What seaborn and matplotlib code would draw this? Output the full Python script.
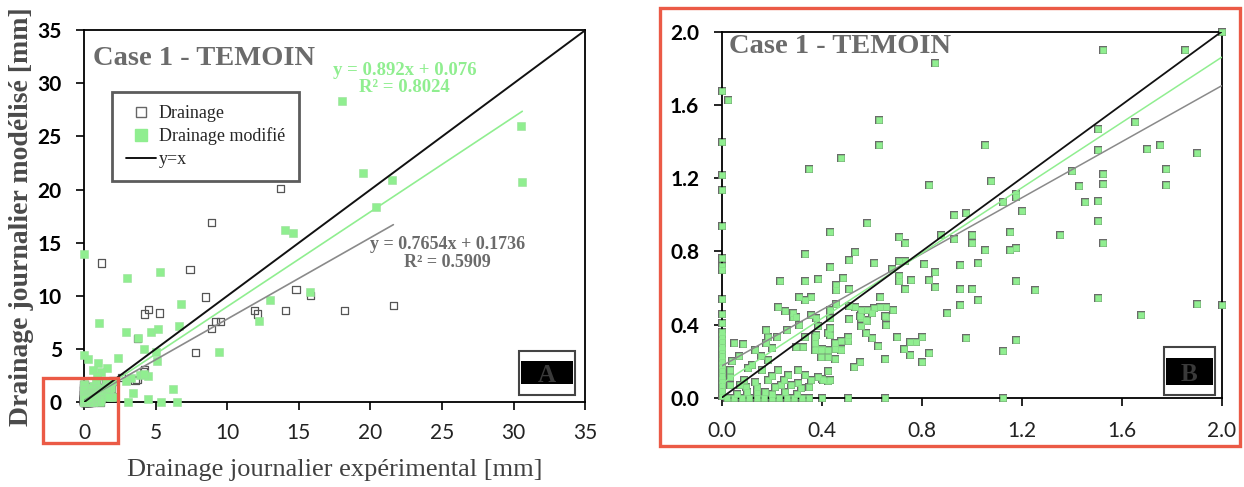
import numpy as np
import pandas as pd
import matplotlib
matplotlib.use("Agg")
import matplotlib.pyplot as plt
import seaborn as sns
from matplotlib.patches import Rectangle
from matplotlib.lines import Line2D

# ---------------- data ----------------
# larger points (left panel) : experimental x, modelled y
exp_drain = [13.7, 8.9, 1.25, 7.4, 8.5, 14.8, 15.8, 4.5, 4.2, 5.3, 11.9, 12.1, 14.05,
             18.2, 21.6, 9.2, 9.5, 8.9, 7.8, 3.75, 4.25, 3.7, 3.56, 4.15, 2.6]
mod_drain = [20.1, 16.9, 13.1, 12.5, 9.9, 10.6, 10.0, 8.7, 8.3, 8.4, 8.6, 8.3, 8.6,
             8.6, 9.1, 7.6, 7.6, 6.9, 4.7, 6.0, 3.05, 2.1, 2.07, 2.85, 2.3]

exp_modif = [18.0, 30.5, 30.6, 19.45, 21.5, 20.4, 14.05, 14.6, 0.0, 5.3, 3.0, 15.8, 13.0,
             6.75, 1.03, 12.2, 6.65, 4.7, 5.2, 2.95, 3.75, 4.2, 5.0, 9.4, 5.1, 2.35, 0.0,
             0.3, 1.0, 1.6, 3.4, 6.2, 4.45, 3.05, 5.35, 6.5, 4.45, 3.3, 3.9, 2.9, 4.2,
             0.6, 1.2, 0.9]
mod_modif = [28.3, 26.0, 20.7, 21.6, 20.9, 18.4, 16.2, 15.9, 13.9, 12.3, 11.65, 10.4, 9.6,
             9.25, 7.5, 7.6, 7.2, 6.6, 6.9, 6.6, 6.0, 5.0, 4.7, 4.7, 3.9, 4.2, 4.45,
             4.1, 3.7, 3.2, 0.9, 1.25, 0.35, 0.0, 0.0, 0.0, 2.5, 2.3, 2.6, 2.0, 2.7,
             3.0, 2.8, 2.5]

# 0-2 mm points (both series coincide at this scale)
exp_small = [2.0, 1.527, 1.852, 0.854, 0.0, 0.027, 0.628, 0.628, 0.478, 0.351, 0.0, 0.0,
             0.0, 0.0, 0.0, 0.0, 0.0, 0.0, 0.0, 0.0,
             1.652, 1.504, 1.504, 1.703, 1.754, 1.903, 1.054, 1.076, 1.403, 1.527, 1.527,
             1.776, 1.776, 1.428, 1.452, 1.504, 0.828, 1.125, 1.178, 1.178, 1.203, 1.504,
             1.527, 1.354, 1.154, 1.154, 1.178, 1.178, 1.054, 0.979, 0.93, 0.876, 1.001,
             1.001, 0.93, 0.954, 1.027, 0.852, 0.828, 0.852, 0.954, 1.001, 1.027, 0.954,
             0.903, 1.252, 1.504, 1.903, 2.0, 1.676, 0.979, 1.178, 1.125, 1.125,
             0.581, 0.432, 0.708, 0.732, 0.332, 0.532, 0.508, 0.608, 0.432, 0.708, 0.732,
             0.808, 0.681, 0.232, 0.332, 0.385, 0.485, 0.708, 0.708, 0.759, 0.456, 0.456,
             0.508, 0.732, 0.308, 0.332, 0.359, 0.632, 0.459, 0.508, 0.532, 0.559, 0.581,
             0.608, 0.632, 0.659, 0.685, 0.432, 0.432, 0.359, 0.379, 0.385, 0.559, 0.581,
             0.559, 0.508, 0.659, 0.659, 0.285, 0.308,
             0.703, 0.754, 0.778, 0.803, 0.728, 0.754, 0.828, 0.803, 0.627, 0.603, 0.578,
             0.552, 0.528, 0.652, 0.504, 0.504, 0.478, 0.454, 0.454, 0.454, 0.427, 0.427,
             0.403, 0.403, 0.504, 0.652, 0.379, 0.403, 0.379, 0.427, 0.554, 0.578, 0.652,
             0.603,
             0.0, 0.0, 0.0, 0.0, 0.0, 0.0, 0.0, 0.0, 0.0, 0.0, 0.0, 0.0, 0.0, 0.0,
             0.02, 0.05, 0.08, 0.11, 0.14, 0.17, 0.2, 0.23, 0.26, 0.29, 0.32, 0.35,
             0.14, 0.14,
             0.225, 0.252, 0.285, 0.299, 0.179, 0.185, 0.179, 0.085, 0.132, 0.159, 0.185,
             0.105, 0.032, 0.032, 0.032, 0.072, 0.099, 0.132, 0.225, 0.265, 0.305, 0.332,
             0.359, 0.385, 0.305, 0.239, 0.279, 0.319, 0.185, 0.212, 0.252, 0.172, 0.372,
             0.399, 0.425, 0.399, 0.425, 0.372, 0.372, 0.299, 0.325, 0.332, 0.432, 0.432,
             0.479, 0.479, 0.405, 0.432,
             0.06, 0.1, 0.2, 0.3, 0.09, 0.2, 0.25, 0.35, 0.16, 0.12, 0.04, 0.07, 0.2,
             0.22, 0.26, 0.05]
mod_small = [2.0, 1.898, 1.9, 1.827, 1.675, 1.628, 1.519, 1.379, 1.309, 1.249, 1.396, 1.216,
             1.136, 0.938, 0.766, 0.72, 0.7, 0.539, 0.457, 0.41,
             1.508, 1.468, 1.352, 1.361, 1.379, 1.339, 1.379, 1.185, 1.238, 1.22, 1.17,
             1.249, 1.165, 1.156, 1.067, 1.074, 1.16, 1.067, 1.111, 1.098, 1.018, 0.965,
             0.846, 0.887, 0.907, 0.808, 0.817, 0.637, 0.808, 1.007, 0.996, 0.887, 0.887,
             0.846, 0.868, 0.726, 0.739, 0.688, 0.646, 0.606, 0.597, 0.597, 0.537, 0.508,
             0.463, 0.588, 0.548, 0.515, 0.506, 0.454, 0.325, 0.316, 0.256, 0.0,
             0.955, 0.905, 0.878, 0.845, 0.787, 0.794, 0.754, 0.736, 0.714, 0.745, 0.745,
             0.731, 0.705, 0.636, 0.636, 0.649, 0.654, 0.663, 0.636, 0.645, 0.617, 0.587,
             0.594, 0.594, 0.553, 0.536, 0.553, 0.553, 0.512, 0.503, 0.499, 0.481, 0.481,
             0.49, 0.495, 0.495, 0.481, 0.481, 0.435, 0.454, 0.435, 0.39, 0.435, 0.422,
             0.393, 0.432, 0.441, 0.399, 0.441, 0.399,
             0.334, 0.307, 0.307, 0.334, 0.267, 0.236, 0.245, 0.196, 0.285, 0.325, 0.352,
             0.198, 0.167, 0.212, 0.334, 0.312, 0.267, 0.298, 0.267, 0.212, 0.149, 0.094,
             0.103, 0.0, 0.0, 0.0, 0.267, 0.267, 0.343, 0.352, 0.445, 0.426, 0.445,
             0.466,
             0.01, 0.04, 0.07, 0.1, 0.12, 0.15, 0.18, 0.2, 0.23, 0.26, 0.28, 0.31, 0.34, 0.36,
             0.0, 0.0, 0.0, 0.0, 0.0, 0.0, 0.0, 0.0, 0.0, 0.0, 0.0, 0.0,
             0.03, 0.06,
             0.499, 0.472, 0.463, 0.444, 0.372, 0.335, 0.299, 0.295, 0.262, 0.226, 0.208,
             0.162, 0.153, 0.116, 0.071, 0.071, 0.062, 0.089, 0.153, 0.126, 0.153, 0.126,
             0.098, 0.116, 0.08, 0.071, 0.071, 0.053, 0.098, 0.062, 0.034, 0.034, 0.262,
             0.262, 0.262, 0.222, 0.222, 0.335, 0.299, 0.277, 0.28, 0.335, 0.381, 0.344,
             0.308, 0.262, 0.098, 0.098,
             0.02, 0.03, 0.02, 0.02, 0.1, 0.12, 0.1, 0.06, 0.15, 0.18, 0.2, 0.23, 0.27,
             0.33, 0.37, 0.3]

fit_modif = (0.892, 0.076)    # y = 0.892x + 0.076, R² = 0.8024
fit_drain = (0.7654, 0.1736)  # y = 0.7654x + 0.1736, R² = 0.5909

# ------------------------------------------------------------
drain = pd.DataFrame({"exp": exp_drain + exp_small, "mod": mod_drain + mod_small})
modif = pd.DataFrame({"exp": exp_modif + exp_small, "mod": mod_modif + mod_small})

sns.set_style("ticks")
plt.rcParams["font.family"] = ["Liberation Serif", "DejaVu Serif"]

GREEN = "#90EE90"
GREY = "#555555"
SERIF = "Liberation Serif"
SANS = "Lato"

fig = plt.figure(figsize=(12.44, 4.87), dpi=100)
axA = fig.add_axes([0.0675, 0.174, 0.403, 0.764])
axB = fig.add_axes([0.580, 0.183, 0.402, 0.752])


def fit_line(ax, df, coef, color, lw, xmax=None):
    x = np.array([0.0, df["exp"].max() if xmax is None else xmax])
    sns.lineplot(x=x, y=coef[0] * x + coef[1], ax=ax, color=color, lw=lw, zorder=4)


def style_axes(ax, lim, ticks, fmt):
    ax.set_xlim(0, lim)
    ax.set_ylim(0, lim)
    ax.set_xticks(ticks)
    ax.set_yticks(ticks)
    ax.set_xticklabels([fmt.format(t) for t in ticks], fontfamily=SANS, fontsize=15,
                       color="#222222")
    ax.set_yticklabels([fmt.format(t) for t in ticks], fontfamily=SANS, fontsize=15,
                       fontweight="bold", color="black")
    ax.tick_params(direction="out", length=6, width=1.2, color="black")
    ax.tick_params(axis="y", pad=10)
    ax.tick_params(axis="x", pad=9)
    for s in ax.spines.values():
        s.set_visible(True)
        s.set_color("black")
        s.set_linewidth(1.3)
    ax.set_xlabel("")
    ax.set_ylabel("")


def tag_box(ax, x0, y0, w, h, band0, band1, letter):
    ax.add_patch(Rectangle((x0, y0), w, h, transform=ax.transAxes, facecolor="white",
                           edgecolor="#444444", lw=1.5, zorder=6))
    ax.add_patch(Rectangle((x0 + 0.004, band0), w - 0.008, band1 - band0,
                           transform=ax.transAxes, facecolor="black", lw=0, zorder=7))
    ax.text(x0 + w / 2, (band0 + band1) / 2 - 0.008, letter, transform=ax.transAxes,
            ha="center", va="center", fontsize=18, fontweight="bold", color="#3a3a3a",
            fontfamily=SERIF, zorder=8)


# ---------------- panel A ----------------
sns.scatterplot(data=drain, x="exp", y="mod", ax=axA, marker="s", s=26,
                facecolor="none", edgecolor=GREY, linewidth=0.9, clip_on=False, zorder=2)
sns.scatterplot(data=modif, x="exp", y="mod", ax=axA, marker="s", s=26, color=GREEN,
                edgecolor="#9be09b", linewidth=0.4, clip_on=False, zorder=3)
fit_line(axA, drain, fit_drain, "#8a8a8a", 1.2)
fit_line(axA, modif, fit_modif, GREEN, 1.2)
xx = np.array([0.0, 35.0])
sns.lineplot(x=xx, y=xx, ax=axA, color="#111111", lw=1.4, zorder=5)
style_axes(axA, 35, list(range(0, 36, 5)), "{:d}")

axA.text(0.018, 0.925, "Case 1 - TEMOIN", transform=axA.transAxes, ha="left",
         va="center", fontsize=20.5, fontweight="bold", color="#6b6b6b", fontfamily=SERIF)
axA.text(22.4, 30.4, "y = 0.892x + 0.076\nR² = 0.8024", ha="center", va="center",
         fontsize=13.5, fontweight="bold", color=GREEN, fontfamily=SERIF, linespacing=1.05)
axA.text(25.4, 14.0, "y = 0.7654x + 0.1736\nR² = 0.5909", ha="center", va="center",
         fontsize=13, fontweight="bold", color="#6b6b6b", fontfamily=SERIF,
         linespacing=1.05)

handles = [
    Line2D([], [], ls="none", marker="s", ms=7, mfc="white", mec="#666666", mew=1),
    Line2D([], [], ls="none", marker="s", ms=8, mfc=GREEN, mec=GREEN),
    Line2D([], [], color="black", lw=1.3),
]
leg = axA.legend(handles, ["Drainage", "Drainage modifié", "y=x"], loc="upper left",
                 bbox_to_anchor=(0.056, 0.835), frameon=True, fancybox=False,
                 prop={"family": SERIF, "size": 13}, handlelength=1.7,
                 handletextpad=0.15, borderpad=0.75, labelspacing=0.3,
                 borderaxespad=0)
leg.get_frame().set_edgecolor("#333333")
leg.get_frame().set_linewidth(2)
leg.set_zorder(9)

tag_box(axA, 0.868, 0.019, 0.112, 0.118, 0.048, 0.11, "A")

axA.set_ylabel("Drainage journalier modélisé [mm]", fontfamily=SERIF, fontsize=20,
               fontweight="bold", color="#4a4a4a")
axA.set_xlabel("Drainage journalier expérimental [mm]", fontfamily=SERIF, fontsize=19,
               color="#404040")
axA.yaxis.set_label_coords(-0.124, 0.5)
axA.xaxis.set_label_coords(0.5, -0.183)
axA.xaxis.label.set_va("center")
axA.yaxis.label.set_va("center")

# ---------------- panel B ----------------
dB = drain[(drain["exp"] <= 2) & (drain["mod"] <= 2)]
mB = modif[(modif["exp"] <= 2) & (modif["mod"] <= 2)]
sns.scatterplot(data=dB, x="exp", y="mod", ax=axB, marker="s", s=30, color="#6a6a6a",
                linewidth=0, clip_on=False, zorder=2)
sns.scatterplot(data=mB, x="exp", y="mod", ax=axB, marker="s", s=24, color=GREEN,
                edgecolor="#86dc86", linewidth=0.4, clip_on=False, zorder=3)
fit_line(axB, drain, fit_drain, "#8a8a8a", 1.1, xmax=2.0)
fit_line(axB, modif, fit_modif, GREEN, 1.1, xmax=2.0)
xb = np.array([0.0, 2.0])
sns.lineplot(x=xb, y=xb, ax=axB, color="#111111", lw=1.3, zorder=5)
style_axes(axB, 2.0, [0.0, 0.4, 0.8, 1.2, 1.6, 2.0], "{:.1f}")
axB.tick_params(axis="x", pad=11)
axB.text(0.015, 0.96, "Case 1 - TEMOIN", transform=axB.transAxes, ha="left",
         va="center", fontsize=20.5, fontweight="bold", color="#6b6b6b", fontfamily=SERIF)
tag_box(axB, 0.884, 0.008, 0.102, 0.131, 0.036, 0.109, "B")

# ---------------- red highlight frames ----------------
RED = "#EB5A46"
fig.patches.append(Rectangle((0.5305, 0.084), 0.466, 0.899, transform=fig.transFigure,
                             fill=False, edgecolor=RED, lw=2.4, zorder=10))
fig.patches.append(Rectangle((0.0346, 0.090), 0.0603, 0.1335, transform=fig.transFigure,
                             fill=False, edgecolor=RED, lw=2.4, zorder=10))

fig.savefig("out.png", dpi=100)
